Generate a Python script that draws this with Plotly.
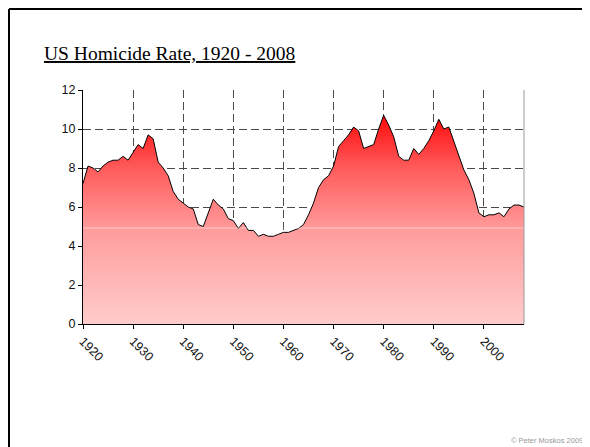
import plotly.graph_objects as go

# US homicide rate per 100,000
years = list(range(1920, 2009))
rate = [
    7.2, 8.1, 8.0, 7.8, 8.1, 8.3, 8.4, 8.4, 8.6, 8.4,   # 1920s
    8.8, 9.2, 9.0, 9.7, 9.5, 8.3, 8.0, 7.6, 6.8, 6.4,   # 1930s
    6.2, 6.0, 5.9, 5.1, 5.0, 5.7, 6.4, 6.1, 5.9, 5.4,   # 1940s
    5.3, 4.9, 5.2, 4.8, 4.8, 4.5, 4.6, 4.5, 4.5, 4.6,   # 1950s
    4.7, 4.7, 4.8, 4.9, 5.1, 5.6, 6.2, 7.0, 7.4, 7.6,   # 1960s
    8.1, 9.1, 9.4, 9.7, 10.1, 9.9, 9.0, 9.1, 9.2, 10.0, # 1970s
    10.7, 10.2, 9.6, 8.6, 8.4, 8.4, 9.0, 8.7, 9.0, 9.4, # 1980s
    9.9, 10.5, 10.0, 10.1, 9.4, 8.6, 7.9, 7.4, 6.7, 5.7, # 1990s
    5.5, 5.6, 5.6, 5.7, 5.5, 5.9, 6.1, 6.1, 6.0,        # 2000s
]
y_ticks = [0, 2, 4, 6, 8, 10, 12]
x_ticks = [1920, 1930, 1940, 1950, 1960, 1970, 1980, 1990, 2000]

fig = go.Figure(go.Scatter(
    x=years, y=rate,
    mode="lines",
    line=dict(color="black", width=1),
    fill="tozeroy",
    fillgradient=dict(
        type="vertical",
        start=0, stop=10.7,
        colorscale=[[0, "#ffcccc"], [0.45, "#ff9c9c"], [0.75, "#ff5a5a"], [1, "#ff0a0a"]],
    ),
    hoverinfo="x+y",
))

# page has an 8px body margin, so the figure starts at (8, 8)
# plot area on the page: x 83..524, y 90..324
fig.update_layout(
    width=590, height=447,
    margin=dict(l=75, r=74, t=82, b=131),
    paper_bgcolor="white", plot_bgcolor="white",
    showlegend=False,
    font=dict(family="Liberation Sans, Arial", size=12.5, color="#111"),
    xaxis=dict(
        range=[1920, 2008], tickvals=x_ticks, tickangle=45,
        ticks="outside", ticklen=4, tickcolor="black",
        showline=True, linecolor="black", linewidth=1,
        showgrid=True, gridcolor="#4a4a4a", gridwidth=1, griddash="8px,4px",
        zeroline=False,
    ),
    yaxis=dict(
        range=[0, 12], tickvals=y_ticks,
        ticks="outside", ticklen=4, tickcolor="black",
        showline=True, linecolor="black", linewidth=1,
        showgrid=True, gridcolor="#4a4a4a", gridwidth=1, griddash="8px,4px",
        zeroline=False,
    ),
    shapes=[
        # slide frame: top and left edges (the rest is off the page)
        dict(type="line", xref="paper", yref="paper",
             x0=-0.1678, y0=1.346, x1=1.2, y1=1.346,
             line=dict(color="black", width=2), layer="above"),
        dict(type="line", xref="paper", yref="paper",
             x0=-0.1678, y0=1.346, x1=-0.1678, y1=-0.6,
             line=dict(color="black", width=2), layer="above"),
        # right edge of plot area
        dict(type="line", xref="paper", yref="paper", x0=1, x1=1, y0=0, y1=1,
             line=dict(color="#999", width=1)),
        # faint banding line in the gradient
        dict(type="line", xref="paper", yref="y", x0=0, x1=1, y0=4.92, y1=4.92,
             line=dict(color="rgba(255,255,255,0.45)", width=1), layer="above"),
    ],
    annotations=[
        dict(text="<u>US Homicide Rate, 1920 - 2008</u>", xref="paper", yref="paper",
             x=-0.093, y=1.158, xanchor="left", yanchor="middle", showarrow=False,
             font=dict(family="Liberation Serif, Times New Roman", size=19.5, color="black")),
        dict(text="© Peter Moskos 2009", xref="paper", yref="paper",
             x=0.965, y=-0.496, xanchor="left", yanchor="middle", showarrow=False,
             font=dict(family="Liberation Sans, Arial", size=7.5, color="#999")),
    ],
)

fig.write_html("out.html", config={"displayModeBar": False})
